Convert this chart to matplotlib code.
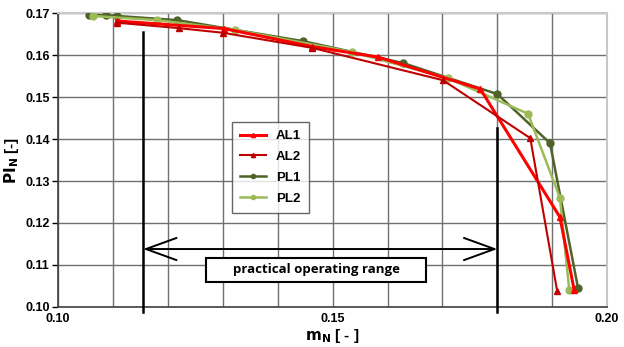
import matplotlib.pyplot as plt
from matplotlib.ticker import MultipleLocator

# Kennlinien (m_N, PI_N)
al1_m = [0.1107, 0.1302, 0.1463, 0.1583, 0.1769, 0.1914, 0.1940]
al1_pi = [0.1681, 0.1663, 0.1620, 0.1595, 0.1519, 0.1214, 0.1040]
al2_m = [0.1107, 0.1220, 0.1300, 0.1463, 0.1701, 0.1860, 0.1909]
al2_pi = [0.1677, 0.1664, 0.1653, 0.1617, 0.1540, 0.1402, 0.1038]
pl1_m = [0.1056, 0.1087, 0.1107, 0.1217, 0.1446, 0.1628, 0.1800, 0.1896, 0.1947]
pl1_pi = [0.1695, 0.1695, 0.1693, 0.1683, 0.1633, 0.1581, 0.1507, 0.1390, 0.1045]
pl2_m = [0.1064, 0.1180, 0.1322, 0.1536, 0.1710, 0.1856, 0.1914, 0.1931]
pl2_pi = [0.1693, 0.1683, 0.1660, 0.1607, 0.1545, 0.1460, 0.1260, 0.1040]

# Betriebsbereich
range_lo, range_hi = 0.1155, 0.1800
range_y = 0.1138
range_top_lo, range_top_hi = 0.1655, 0.1426

tick_font = ['Liberation Sans Narrow', 'Liberation Sans', 'DejaVu Sans']

fig = plt.figure(figsize=(6.24, 3.47), dpi=100)
ax = fig.add_axes([0.093, 0.1153, 0.880, 0.8472])

ax.plot(al1_m, al1_pi, color='#ff0000', lw=2.2, marker='^', ms=5, label='AL1', zorder=4)
ax.plot(al2_m, al2_pi, color='#c00000', lw=1.5, marker='^', ms=5, label='AL2', zorder=4)
ax.plot(pl1_m, pl1_pi, color='#4f6228', lw=1.8, marker='o', ms=5, label='PL1', zorder=3)
ax.plot(pl2_m, pl2_pi, color='#9bbb59', lw=1.8, marker='o', ms=5, label='PL2', zorder=3)

# Grenzen des Betriebsbereichs
ax.plot([range_lo, range_lo], [0.0988, range_top_lo], color='black', lw=1.8, clip_on=False, zorder=5)
ax.plot([range_hi, range_hi], [0.0988, range_top_hi], color='black', lw=1.8, clip_on=False, zorder=5)
ax.annotate('', xy=(range_lo, range_y), xytext=(range_hi, range_y),
            arrowprops=dict(arrowstyle='<->, head_length=2.2, head_width=0.8',
                            color='black', lw=1.4, shrinkA=0, shrinkB=0), zorder=5)
ax.text(0.1470, 0.1089, '      practical operating range      ', ha='center', va='center',
        fontsize=9.5, fontweight='bold', family='Open Sans', zorder=6,
        bbox=dict(boxstyle='square,pad=0.42', fc='white', ec='black', lw=1.5))

ax.set_xlim(0.10, 0.20)
ax.set_ylim(0.10, 0.17)
ax.xaxis.set_minor_locator(MultipleLocator(0.01))
ax.yaxis.set_major_locator(MultipleLocator(0.01))
ax.set_xticks([0.10, 0.15, 0.20])
ax.set_xticklabels(['0.10', '0.15', '0.20'])
ax.set_yticklabels(['%.2f' % v for v in ax.get_yticks()])
ax.grid(True, which='both', color='#707070', lw=1.0)
ax.tick_params(axis='x', which='both', length=0, pad=4)
ax.tick_params(axis='y', length=4, width=1, pad=2)
for lab in ax.get_xticklabels() + ax.get_yticklabels():
    lab.set_family(tick_font)
    lab.set_fontweight('bold')
    lab.set_fontsize(9)

for s in ['top', 'right']:
    ax.spines[s].set_color('#c8c8c8')
    ax.spines[s].set_linewidth(1.5)
for s in ['left', 'bottom']:
    ax.spines[s].set_color('#404040')
    ax.spines[s].set_linewidth(1.2)

ax.set_xlabel(r'$\mathbf{m_N}$ [ - ]', fontsize=11, fontweight='bold', family=tick_font, labelpad=2)
ax.set_ylabel(r'$\mathbf{PI_N}$ [-]', fontsize=11, fontweight='bold', family=tick_font, labelpad=3)

leg = ax.legend(loc='upper left', bbox_to_anchor=(0.317, 0.629), borderaxespad=0,
                frameon=True, fancybox=False, edgecolor='#404040', handlelength=2.0,
                borderpad=0.6, labelspacing=0.65, handletextpad=0.7,
                prop={'family': tick_font, 'weight': 'bold', 'size': 9.5}, markerscale=0.6)
leg.get_frame().set_linewidth(1.0)
leg.set_zorder(6)

fig.savefig('out.png', dpi=100)
